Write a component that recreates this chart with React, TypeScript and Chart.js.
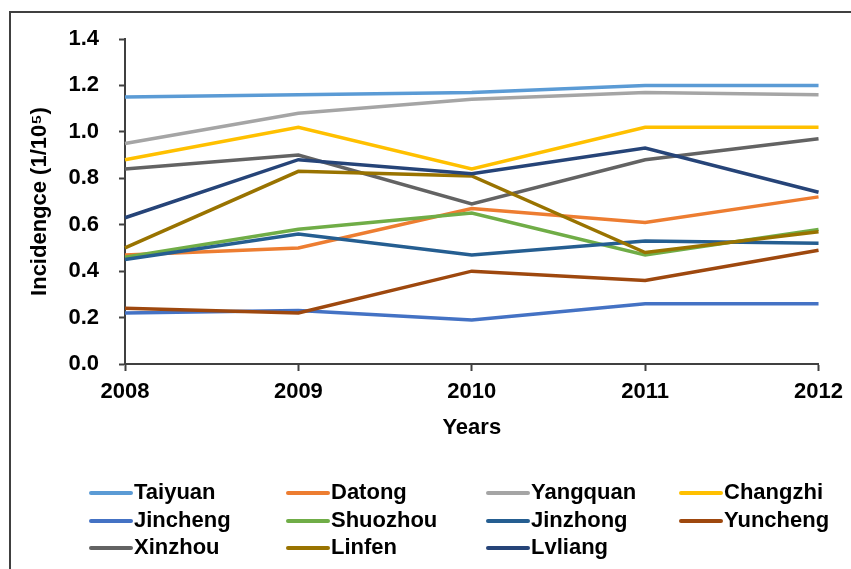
import React, { useEffect, useRef } from "react";
import { Chart, registerables } from "chart.js";

Chart.register(...registerables);

const YEARS = ["2008", "2009", "2010", "2011", "2012"];

const TAIYUAN = [1.15, 1.16, 1.17, 1.2, 1.2];
const DATONG = [0.47, 0.5, 0.67, 0.61, 0.72];
const YANGQUAN = [0.95, 1.08, 1.14, 1.17, 1.16];
const CHANGZHI = [0.88, 1.02, 0.84, 1.02, 1.02];
const JINCHENG = [0.22, 0.23, 0.19, 0.26, 0.26];
const SHUOZHOU = [0.46, 0.58, 0.65, 0.47, 0.58];
const JINZHONG = [0.45, 0.56, 0.47, 0.53, 0.52];
const YUNCHENG = [0.24, 0.22, 0.4, 0.36, 0.49];
const XINZHOU = [0.84, 0.9, 0.69, 0.88, 0.97];
const LINFEN = [0.5, 0.83, 0.81, 0.48, 0.57];
const LVLIANG = [0.63, 0.88, 0.82, 0.93, 0.74];

const CITIES = [
  "Taiyuan", "Datong", "Yangquan", "Changzhi",
  "Jincheng", "Shuozhou", "Jinzhong", "Yuncheng",
  "Xinzhou", "Linfen", "Lvliang",
];
const SERIES = [
  TAIYUAN, DATONG, YANGQUAN, CHANGZHI,
  JINCHENG, SHUOZHOU, JINZHONG, YUNCHENG,
  XINZHOU, LINFEN, LVLIANG,
];
const COLORS = [
  "#5B9BD5", "#ED7D31", "#A5A5A5", "#FFC000",
  "#4472C4", "#70AD47", "#255E91", "#9E480E",
  "#636363", "#997300", "#264478",
];

const FONT_FAMILY = "'Liberation Sans', Arial, Helvetica, sans-serif";
const AXIS_COLOR = "#404040";

// Outer frame around the figure
const framePlugin = {
  id: "frame",
  beforeDraw(chart: any) {
    const ctx = chart.ctx;
    ctx.save();
    ctx.strokeStyle = AXIS_COLOR;
    ctx.lineWidth = 2;
    ctx.strokeRect(10, 12, 1000, 1000);
    ctx.restore();
  },
};

// Grid-style legend below the axis title (4 columns)
const LEGEND_COLUMNS = [90, 287, 487, 680];
const LEGEND_ROWS = [493, 521, 548];
const gridLegendPlugin = {
  id: "gridLegend",
  afterDraw(chart: any) {
    const ctx = chart.ctx;
    ctx.save();
    chart.data.datasets.forEach((ds: any, i: number) => {
      const x = LEGEND_COLUMNS[i % 4];
      const y = LEGEND_ROWS[Math.floor(i / 4)];
      ctx.strokeStyle = ds.borderColor;
      ctx.lineWidth = 4;
      ctx.lineCap = "round";
      ctx.beginPath();
      ctx.moveTo(x + 1, y);
      ctx.lineTo(x + 41, y);
      ctx.stroke();
      ctx.fillStyle = "#000";
      ctx.font = `bold 22px ${FONT_FAMILY}`;
      ctx.textAlign = "left";
      ctx.textBaseline = "middle";
      ctx.fillText(ds.label, x + 44, y);
    });
    ctx.restore();
  },
};

export default function App() {
  const canvasRef = useRef<HTMLCanvasElement | null>(null);

  useEffect(() => {
    if (!canvasRef.current) return;
    const font = { family: FONT_FAMILY, size: 22, weight: "bold" as const };
    const chart = new Chart(canvasRef.current, {
      type: "line",
      data: {
        labels: YEARS,
        datasets: CITIES.map((name, i) => ({
          label: name,
          data: SERIES[i],
          borderColor: COLORS[i],
          backgroundColor: COLORS[i],
          borderWidth: 3.5,
          pointRadius: 0,
          tension: 0,
          fill: false,
          order: -i,
        })),
      },
      options: {
        responsive: false,
        animation: false,
        events: [],
        layout: { padding: { left: 0, top: 39, right: 31, bottom: 125 } },
        plugins: {
          legend: { display: false },
          tooltip: { enabled: false },
        },
        scales: {
          x: {
            type: "category",
            offset: false,
            afterFit: (s: any) => {
              s.height = 80;
            },
            border: { color: AXIS_COLOR, width: 2 },
            grid: {
              drawOnChartArea: false,
              offset: false,
              tickLength: 7,
              tickColor: AXIS_COLOR,
              tickWidth: 2,
            },
            ticks: {
              padding: 8,
              color: "#000",
              font,
              maxRotation: 0,
              autoSkip: false,
            },
            title: {
              display: true,
              text: "Years",
              color: "#000",
              font,
              padding: { top: 0, bottom: 3 },
            },
          },
          y: {
            min: 0,
            max: 1.4,
            afterFit: (s: any) => {
              s.width = 125;
            },
            border: { color: AXIS_COLOR, width: 2 },
            grid: {
              drawOnChartArea: false,
              tickLength: 6,
              tickColor: AXIS_COLOR,
              tickWidth: 2,
            },
            ticks: {
              stepSize: 0.1,
              padding: 20,
              color: "#000",
              font,
              callback: (v: any) =>
                Math.round(Number(v) * 10) % 2 === 0 ? Number(v).toFixed(1) : "",
            },
            title: {
              display: true,
              text: "Incidengce (1/10⁵)",
              color: "#000",
              font,
              padding: { top: 27, bottom: 0 },
            },
          },
        },
      },
      plugins: [framePlugin, gridLegendPlugin],
    });
    return () => chart.destroy();
  }, []);

  return (
    <div
      style={{
        position: "absolute",
        left: 0,
        top: 0,
        width: 851,
        height: 569,
        background: "#fff",
      }}
    >
      <canvas ref={canvasRef} width={851} height={569} />
    </div>
  );
}
